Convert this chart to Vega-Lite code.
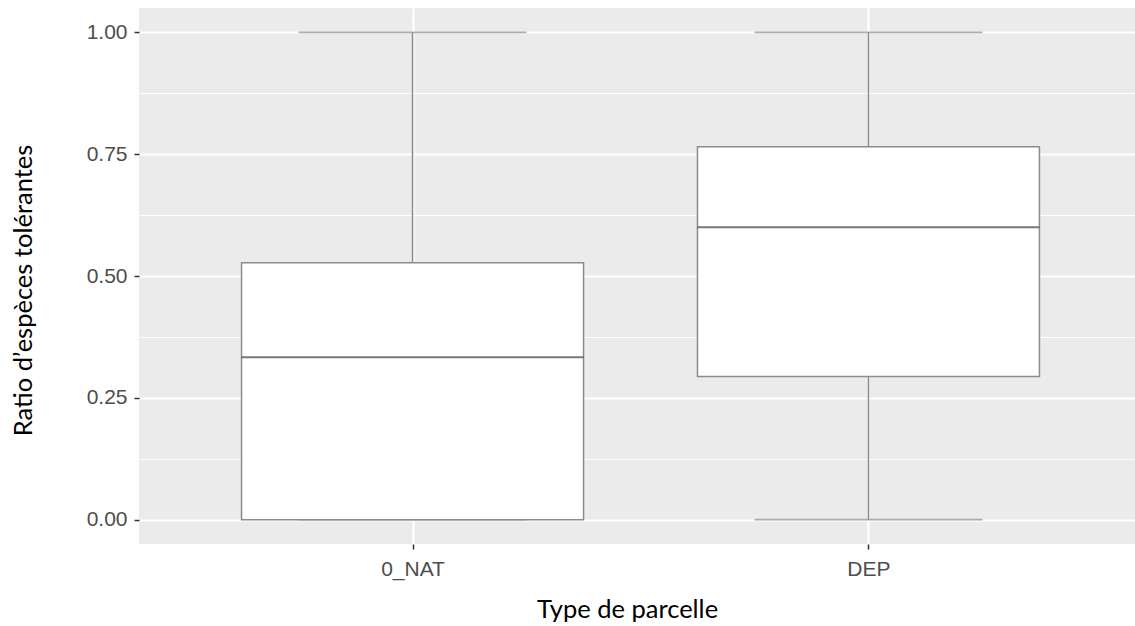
{
  "$schema": "https://vega.github.io/schema/vega-lite/v6.json",
  "width": 1003,
  "height": 536,
  "autosize": "none",
  "padding": {"left": 139, "top": 8, "right": 0, "bottom": 82},
  "background": "white",
  "config": {"view": {"fill": "#EBEBEB", "stroke": null}},
  "data": {"values": [
    {"type": "0_NAT", "min": 0, "q1": 0, "median": 0.333, "q3": 0.527, "max": 1},
    {"type": "DEP", "min": 0, "q1": 0.294, "median": 0.6, "q3": 0.765, "max": 1}
  ]},
  "encoding": {
    "x": {
      "field": "type", "type": "nominal", "sort": null,
      "scale": {"type": "point", "padding": 0.6},
      "axis": {
        "title": "Type de parcelle",
        "titleFont": "Lato", "titleFontSize": 25.5, "titleFontWeight": "normal", "titleColor": "#000000",
        "titleBaseline": "alphabetic", "titleX": 488, "titleY": 73, "titleAnchor": "middle",
        "labelFont": "Liberation Sans", "labelFontSize": 21, "labelColor": "#4D4D4D", "labelPadding": 9, "labelAngle": 0,
        "domain": false, "tickColor": "#333333", "tickSize": 5, "tickWidth": 1.5,
        "grid": true, "gridColor": "#FFFFFF", "gridWidth": 2.2
      }
    }
  },
  "layer": [
    {
      "mark": {"type": "rule", "color": "#8C8C8C", "strokeWidth": 1.5},
      "encoding": {
        "y": {
          "field": "min", "type": "quantitative", "title": "Ratio d’espèces tolérantes",
          "scale": {"domain": [-0.05, 1.05], "nice": false, "zero": false},
          "axis": {
            "values": [0, 0.125, 0.25, 0.375, 0.5, 0.625, 0.75, 0.875, 1],
            "labelExpr": "datum.value * 4 == round(datum.value * 4) ? format(datum.value, '.2f') : ''",
            "titleFont": "Lato", "titleFontSize": 25.5, "titleFontWeight": "normal", "titleColor": "#000000",
            "titleBaseline": "alphabetic", "titleX": -108, "titleY": 282, "titleAngle": -90, "titleAlign": "center",
            "labelFont": "Liberation Sans", "labelFontSize": 21, "labelColor": "#4D4D4D", "labelPadding": 7,
            "domain": false, "tickColor": "#333333", "tickSize": 5, "tickWidth": 1.5,
            "tickOpacity": {"condition": {"test": "datum.value * 4 == round(datum.value * 4)", "value": 1}, "value": 0},
            "grid": true, "gridColor": "#FFFFFF",
            "gridWidth": {"condition": {"test": "datum.value * 4 == round(datum.value * 4)", "value": 2.2}, "value": 1.1}
          }
        },
        "y2": {"field": "max"}
      }
    },
    {
      "mark": {"type": "tick", "color": "#8C8C8C", "thickness": 1.8, "size": 228},
      "encoding": {"y": {"field": "min", "type": "quantitative", "title": "Ratio d’espèces tolérantes"}}
    },
    {
      "mark": {"type": "tick", "color": "#8C8C8C", "thickness": 1.8, "size": 228},
      "encoding": {"y": {"field": "max", "type": "quantitative", "title": "Ratio d’espèces tolérantes"}}
    },
    {
      "mark": {"type": "bar", "fill": "#FFFFFF", "stroke": "#8C8C8C", "strokeWidth": 1.5, "size": 342},
      "encoding": {
        "y": {"field": "q1", "type": "quantitative", "title": "Ratio d’espèces tolérantes"},
        "y2": {"field": "q3"}
      }
    },
    {
      "mark": {"type": "tick", "color": "#404040", "thickness": 2, "size": 342},
      "encoding": {"y": {"field": "median", "type": "quantitative", "title": "Ratio d’espèces tolérantes"}}
    }
  ]
}
